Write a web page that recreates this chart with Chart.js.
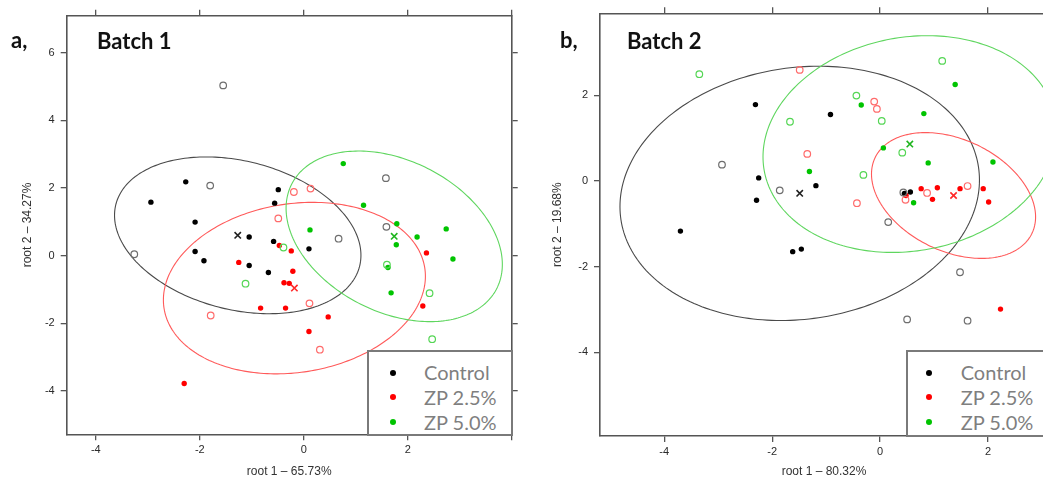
<!DOCTYPE html>
<html>
<head>
<meta charset="utf-8">
<script src="https://cdn.jsdelivr.net/npm/chart.js@4.4.1/dist/chart.umd.min.js"></script>
<style>
  html, body { margin:0; padding:0; background:#fff; }
  #wrap { position:relative; width:1043px; height:480px; overflow:hidden; background:#fff; }
  canvas { position:absolute; top:0; }
  .lbl { position:absolute; font-family:Lato, "Open Sans", sans-serif; font-weight:700; font-size:22px; line-height:22px; color:#111; white-space:nowrap; }
  .legend { position:absolute; background:#fff; border:2px solid #7a7a7a; box-sizing:border-box; }
  .lrow { position:absolute; font-family:Lato, "Open Sans", sans-serif; font-size:20px; line-height:20px; color:#7f7f7f; white-space:nowrap; }
  .ldot { position:absolute; width:6px; height:6px; border-radius:50%; }
</style>
</head>
<body>
<div id="wrap">
  <canvas id="ca" width="520" height="480" style="left:0px"></canvas>
  <canvas id="cb" width="560" height="480" style="left:520px"></canvas>
  <div class="lbl" style="left:11px;top:29px">a,</div>
  <div class="lbl" style="left:97px;top:30px">Batch 1</div>
  <div class="lbl" style="left:560px;top:29px">b,</div>
  <div class="lbl" style="left:627px;top:30px">Batch 2</div>
  <div id="legA"></div>
  <div id="legB"></div>
</div>
<script>
// ---------- data ----------
const groupNames = ['Control', 'ZP 2.5%', 'ZP 5.0%'];

// Batch 1 (panel a)
const b1ControlFilled = [[-2.27,2.18],[-2.94,1.58],[-2.09,0.99],[-2.09,0.12],[-1.92,-0.15],[-1.05,-0.29],[-1.05,0.55],[-0.68,-0.50],[-0.58,0.42],[-0.49,1.95],[-0.56,1.55],[0.10,0.20]];
const b1ControlOpen   = [[-1.55,5.03],[-1.80,2.07],[-3.26,0.04],[0.67,0.50],[1.58,2.29],[1.59,0.85]];
const b1Zp25Filled    = [[-1.25,-0.20],[-0.47,0.30],[-0.24,0.14],[-0.21,-0.46],[-0.38,-0.80],[-0.28,-0.82],[-0.83,-1.55],[-0.35,-1.55],[0.47,-1.81],[0.10,-2.24],[-2.30,-3.78],[2.36,0.08],[2.29,-1.49]];
const b1Zp25Open      = [[-0.19,1.88],[0.13,1.98],[-0.49,1.10],[0.11,-1.41],[-1.79,-1.77],[0.31,-2.78]];
const b1Zp50Filled    = [[0.76,2.72],[1.15,1.49],[1.79,0.94],[2.18,0.55],[2.74,0.79],[0.12,0.76],[1.78,0.32],[2.87,-0.10],[1.62,-0.35],[1.68,-1.10]];
const b1Zp50Open      = [[-0.39,0.24],[-1.12,-0.83],[1.60,-0.27],[2.42,-1.11],[2.47,-2.47]];
const b1Centroids     = [[-1.27,0.60],[-0.18,-0.96],[1.74,0.57]];
// ellipse conjugate half-axes [ux, uy, vx, vy] in data units, centred on the centroids
const b1Ellipses      = [[2.37,-0.59,0,2.24],[2.52,0.35,0,2.51],[2.08,-0.83,0,2.38]];

// Batch 2 (panel b)
const b2ControlFilled = [[-2.31,1.78],[-0.92,1.55],[-2.25,0.07],[-1.19,-0.11],[-2.29,-0.45],[-3.70,-1.17],[-1.62,-1.65],[-1.46,-1.59],[0.45,-0.29],[0.56,-0.26]];
const b2ControlOpen   = [[-2.93,0.38],[-1.86,-0.22],[0.43,-0.27],[0.15,-0.96],[1.48,-2.13],[0.50,-3.23],[1.62,-3.26]];
const b2Zp25Filled    = [[0.48,-0.34],[0.76,-0.18],[0.97,-0.43],[1.06,-0.16],[1.48,-0.18],[1.91,-0.18],[2.01,-0.49],[2.23,-2.99]];
const b2Zp25Open      = [[-1.49,2.59],[-0.11,1.85],[-0.06,1.68],[-1.35,0.63],[-0.43,-0.52],[0.47,-0.44],[0.87,-0.28],[1.62,-0.12]];
const b2Zp50Filled    = [[-0.35,1.77],[1.39,2.25],[0.81,1.57],[0.06,0.77],[0.89,0.42],[2.09,0.44],[-1.31,0.22],[0.62,-0.51]];
const b2Zp50Open      = [[-3.35,2.49],[-0.44,1.99],[0.03,1.40],[-1.67,1.38],[1.15,2.80],[0.41,0.66],[-0.31,0.14]];
const b2Centroids     = [[-1.49,-0.29],[1.36,-0.34],[0.55,0.86]];
const b2Ellipses      = [[3.33,0.31,0,2.95],[1.52,-0.50,0,1.38],[2.72,0.30,0,2.51]];

// tick values
const b1XTicks = [-4,-2,0,2,4];
const b1YTicks = [-4,-2,0,2,4,6];
const b2XTicks = [-4,-2,0,2];
const b2YTicks = [-4,-2,0,2];

const xTitleA = 'root 1 \u2013 65.73%';
const yTitleA = 'root 2 \u2013 34.27%';
const xTitleB = 'root 1 \u2013 80.32%';
const yTitleB = 'root 2 \u2013 19.68%';

// ---------- styles ----------
const filledColors  = ['#000000', '#ff0000', '#00c400'];
const openColors    = ['#6e6e6e', '#ff6b6b', '#55d655'];
const ellipseColors = ['#4a4a4a', '#ff5a5a', '#5fd65f'];
const crossColors   = ['#222222', '#ff2a2a', '#1fb51f'];

const toPts = arr => arr.map(p => ({x:p[0], y:p[1]}));

const ellipsePlugin = {
  id: 'ellipses',
  beforeDatasetsDraw(chart, args, opts) {
    const {ctx, chartArea, scales} = chart;
    const sx = scales.x, sy = scales.y;
    ctx.save();
    ctx.beginPath();
    ctx.rect(chartArea.left, chartArea.top, chartArea.right - chartArea.left, chartArea.bottom - chartArea.top);
    ctx.clip();
    opts.items.forEach((e, i) => {
      const c = opts.centers[i];
      const [ux, uy, vx, vy] = e;
      ctx.beginPath();
      const n = 240;
      for (let k = 0; k <= n; k++) {
        const t = k / n * Math.PI * 2;
        const dx = c[0] + ux * Math.cos(t) + vx * Math.sin(t);
        const dy = c[1] + uy * Math.cos(t) + vy * Math.sin(t);
        const px = sx.getPixelForValue(dx), py = sy.getPixelForValue(dy);
        if (k === 0) ctx.moveTo(px, py); else ctx.lineTo(px, py);
      }
      ctx.closePath();
      ctx.strokeStyle = opts.colors[i];
      ctx.lineWidth = 1.1;
      ctx.stroke();
    });
    ctx.restore();
  }
};

function makeDatasets(filled, open, centroids) {
  const ds = [];
  open.forEach((arr, i) => ds.push({
    data: toPts(arr), pointRadius: 3.3, pointBackgroundColor: 'rgba(0,0,0,0)',
    pointBorderColor: openColors[i], pointBorderWidth: 1.2, showLine: false
  }));
  filled.forEach((arr, i) => ds.push({
    data: toPts(arr), pointRadius: 2.7, pointBackgroundColor: filledColors[i],
    pointBorderColor: filledColors[i], pointBorderWidth: 0, showLine: false
  }));
  centroids.forEach((p, i) => ds.push({
    data: toPts([p]), pointStyle: 'crossRot', pointRadius: 4.5,
    pointBorderColor: crossColors[i], pointBorderWidth: 1.6, showLine: false
  }));
  return ds;
}

const axisColor = '#555555';
const tickFont = {family: '"Liberation Sans", Arial, sans-serif', size: 11};
const titleFont = {family: '"Liberation Sans", Arial, sans-serif', size: 12};

function axis(opts) {
  return Object.assign({
    type: 'linear',
    border: {display: true, color: axisColor, width: 1.6},
    grid: {drawOnChartArea: false, drawTicks: true, tickLength: 6, color: axisColor, lineWidth: 1.3},
  }, opts);
}

function setTicks(values) {
  return function(scale) { scale.ticks = values.map(v => ({value: v})); };
}

function makeChart(id, cfg) {
  return new Chart(document.getElementById(id), {
    type: 'scatter',
    data: {datasets: makeDatasets(cfg.filled, cfg.open, cfg.centroids)},
    options: {
      responsive: false, animation: false, devicePixelRatio: 1,
      layout: {padding: 0},
      plugins: {
        legend: {display: false}, tooltip: {enabled: false},
        ellipses: {items: cfg.ellipses, centers: cfg.centroids, colors: ellipseColors}
      },
      scales: {
        x: axis({
          position: 'bottom', min: cfg.xmin, max: cfg.xmax,
          afterBuildTicks: setTicks(cfg.xticks),
          afterFit: s => { s.height = cfg.bottomH; },
          ticks: {font: tickFont, color: '#2a2a2a', padding: 3, maxRotation: 0,
                  callback: v => (cfg.xlabelMax !== undefined && v > cfg.xlabelMax) ? '' : String(v)},
          title: {display: true, text: cfg.xTitle, font: titleFont, color: '#333', padding: {top: 0, bottom: 1}}
        }),
        x2: axis({
          position: 'top', min: cfg.xmin, max: cfg.xmax,
          afterBuildTicks: setTicks(cfg.xticks),
          afterFit: s => { s.height = cfg.topH; },
          ticks: {display: false}
        }),
        y: axis({
          position: 'left', min: cfg.ymin, max: cfg.ymax,
          afterBuildTicks: setTicks(cfg.yticks),
          afterFit: s => { s.width = cfg.leftW; },
          ticks: {font: tickFont, color: '#2a2a2a', padding: 6, callback: v => String(v)},
          title: {display: true, text: cfg.yTitle, font: titleFont, color: '#333', padding: {top: cfg.yTitlePad, bottom: 0}}
        }),
        y2: axis({
          position: 'right', min: cfg.ymin, max: cfg.ymax,
          afterBuildTicks: setTicks(cfg.yticks),
          afterFit: s => { s.width = cfg.rightW; },
          ticks: {display: false}
        })
      }
    },
    plugins: [ellipsePlugin]
  });
}

makeChart('ca', {
  filled: [b1ControlFilled, b1Zp25Filled, b1Zp50Filled],
  open: [b1ControlOpen, b1Zp25Open, b1Zp50Open],
  centroids: b1Centroids, ellipses: b1Ellipses,
  xmin: -4.56, xmax: 4.0, ymin: -5.28, ymax: 7.09,
  xticks: b1XTicks, yticks: b1YTicks, xlabelMax: 2,
  xTitle: xTitleA, yTitle: yTitleA,
  leftW: 66.7, rightW: 8.3, topH: 15.7, bottomH: 45.7, yTitlePad: 20
});

makeChart('cb', {
  filled: [b2ControlFilled, b2Zp25Filled, b2Zp50Filled],
  open: [b2ControlOpen, b2Zp25Open, b2Zp50Open],
  centroids: b2Centroids, ellipses: b2Ellipses,
  xmin: -5.19, xmax: 3.11, ymin: -5.95, ymax: 3.91,
  xticks: b2XTicks, yticks: b2YTicks,
  xTitle: xTitleB, yTitle: yTitleB,
  leftW: 80, rightW: 32, topH: 13.3, bottomH: 44, yTitlePad: 30
});

// ---------- legends ----------
function buildLegend(id, box, dotX, textX, rows) {
  const el = document.getElementById(id);
  const b = document.createElement('div');
  b.className = 'legend';
  b.style.left = box.left + 'px'; b.style.top = box.top + 'px';
  b.style.width = box.width + 'px'; b.style.height = box.height + 'px';
  el.appendChild(b);
  groupNames.forEach((name, i) => {
    const d = document.createElement('div');
    d.className = 'ldot';
    d.style.left = (dotX - 3) + 'px'; d.style.top = (rows[i] - 3) + 'px';
    d.style.background = filledColors[i];
    el.appendChild(d);
    const t = document.createElement('div');
    t.className = 'lrow';
    t.style.left = textX + 'px'; t.style.top = (rows[i] - 10.5) + 'px';
    t.textContent = name;
    el.appendChild(t);
  });
}
buildLegend('legA', {left: 367, top: 349.5, width: 145.5, height: 86}, 392.7, 424, [372.7, 397.3, 422]);
buildLegend('legB', {left: 905.5, top: 349.5, width: 143.5, height: 87.5}, 929.3, 960.7, [372.7, 397.3, 422]);
</script>
</body>
</html>
